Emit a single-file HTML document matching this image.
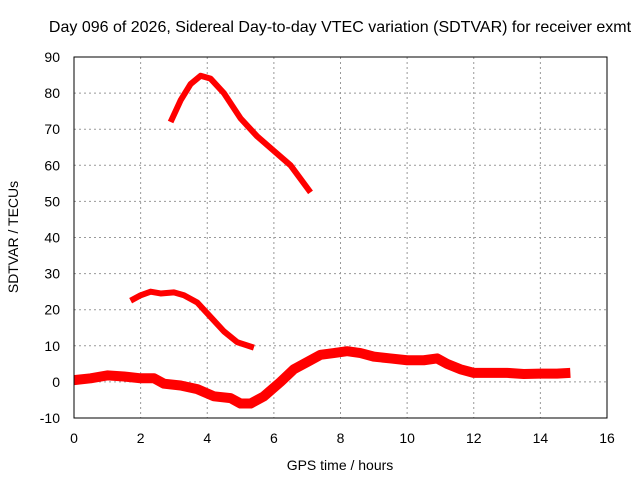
<!DOCTYPE html>
<html><head><meta charset="utf-8"><style>
body{margin:0;background:#fff}
svg text{font-family:"Liberation Sans",sans-serif;font-size:14px;fill:#000}
</style></head><body>
<svg width="640" height="480">
<text x="340" y="32" text-anchor="middle" style="font-size:16px">Day 096 of 2026, Sidereal Day-to-day VTEC variation (SDTVAR) for receiver exmt</text>
<g id="grid"></g>
<g id="ticks"></g>
<g id="series"></g>
<rect x="74" y="57" width="533" height="361" fill="none" stroke="#000" stroke-width="1"/>
<text x="340" y="470" text-anchor="middle">GPS time / hours</text>
<text x="18" y="237" text-anchor="middle" transform="rotate(-90 18 237)">SDTVAR / TECUs</text>
</svg>
<script>
const xTicks=[0,2,4,6,8,10,12,14,16];
const yTicks=[-10,0,10,20,30,40,50,60,70,80,90];
const seriesA=[[2.9,72],[3.2,78],[3.5,82.5],[3.8,84.8],[4.1,84],[4.5,80],[5,73],[5.5,68],[6,64],[6.5,60],[7.1,52.5]];
const seriesB=[[1.7,22.5],[2,24],[2.3,25],[2.6,24.5],[3,24.8],[3.3,24],[3.7,22],[4.1,18],[4.5,14],[4.9,11],[5.4,9.5]];
const seriesC=[[0,0.5],[0.5,1],[1,1.8],[1.5,1.5],[2,1],[2.4,1],[2.7,-0.5],[3.2,-1],[3.7,-2],[4.2,-4],[4.7,-4.5],[5,-6],[5.3,-6],[5.7,-4],[6.2,0],[6.6,3.5],[7,5.5],[7.4,7.5],[7.8,8],[8.2,8.5],[8.6,8],[9,7],[9.5,6.5],[10,6],[10.5,6],[10.9,6.5],[11.2,5],[11.6,3.5],[12,2.5],[12.5,2.5],[13,2.5],[13.5,2.2],[14,2.3],[14.5,2.3],[14.9,2.5]];
const NS="http://www.w3.org/2000/svg";
const X=h=>74+h*(533/16), Y=v=>418-(v+10)*(361/100);
function mk(t,a,p){const e=document.createElementNS(NS,t);for(const k in a)e.setAttribute(k,a[k]);p.appendChild(e);return e;}
const g=document.getElementById('grid'),tk=document.getElementById('ticks'),s=document.getElementById('series');
xTicks.forEach(h=>{
 if(h>0&&h<16){const l=mk('line',{x1:X(h),x2:X(h),y1:57,y2:418,stroke:'#999','stroke-dasharray':'2,3'},g);
 
 }
 const t=mk('text',{x:X(h),y:443,'text-anchor':'middle'},tk);t.textContent=h;
 
 
});
yTicks.forEach(v=>{
 if(v>-10&&v<90){const l=mk('line',{x1:74,x2:607,y1:Y(v),y2:Y(v),stroke:'#999','stroke-dasharray':'2,3'},g);
 
 }
 const t=mk('text',{x:60,y:Y(v)+5,'text-anchor':'end'},tk);t.textContent=v;
 
 
});
[[seriesA,6,'series-a-line'],[seriesB,6,'series-b-line'],[seriesC,10,'series-c-line']].forEach(([d,w,n])=>{
 const p=mk('polyline',{points:d.map(q=>X(q[0])+','+Y(q[1])).join(' '),fill:'none',stroke:'#f00','stroke-width':w,'stroke-linejoin':'round'},s);
 
 
});
</script>
</body></html>
